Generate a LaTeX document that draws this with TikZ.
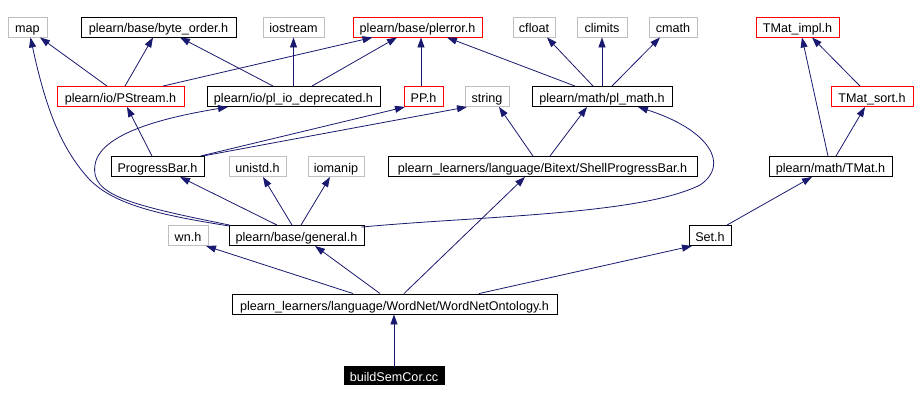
\documentclass[tikz,border=0pt]{standalone}
\usepackage{fontspec}
\setmainfont{Liberation Sans}
\usetikzlibrary{arrows.meta}
\definecolor{edgeblue}{HTML}{191970}
\definecolor{grayline}{HTML}{BFBFBF}
\definecolor{redline}{HTML}{FF0000}
\begin{document}
\begin{tikzpicture}[x=1pt,y=-1pt,
  box/.style={rectangle, draw, fill=white, inner sep=0pt, minimum height=20pt,
    text height=13pt, text depth=1pt,
    font=\fontsize{12.6}{14}\selectfont, line width=0.9pt},
  sysbox/.style={box, draw=grayline},
  redbox/.style={box, draw=redline},
  blkbox/.style={box, draw=black},
  mainbox/.style={box, draw=black, fill=black, text=white},
  dep/.style={draw=edgeblue, line width=0.8pt, -{Triangle[length=10pt,width=7pt]}}]
\useasboundingbox[fill=white] (0,0) rectangle (916,401);
% row 1
\node[sysbox, minimum width=39pt]  (map)     at (27.5,27)  {map};
\node[blkbox, minimum width=155pt] (byteord) at (158.5,27) {plearn/base/byte\_order.h};
\node[sysbox, minimum width=61pt]  (iostr)   at (293.5,27) {iostream};
\node[redbox, minimum width=129pt] (plerr)   at (417.5,27) {plearn/base/plerror.h};
\node[sysbox, minimum width=42pt]  (cfloat)  at (534,27)   {cfloat};
\node[sysbox, minimum width=50pt]  (climits) at (602,27)   {climits};
\node[sysbox, minimum width=48pt]  (cmath)   at (673,27)   {cmath};
\node[redbox, minimum width=83pt]  (tmimpl)  at (797.5,27) {TMat\_impl.h};
% row 2
\node[redbox, minimum width=127pt] (pstream) at (120.5,96.5) {plearn/io/PStream.h};
\node[blkbox, minimum width=173pt] (pliodep) at (293.5,96.5) {plearn/io/pl\_io\_deprecated.h};
\node[redbox, minimum width=39pt]  (pph)     at (423.5,96.5) {PP.h};
\node[sysbox, minimum width=44pt]  (string)  at (487,96.5)   {string};
\node[blkbox, minimum width=140pt] (plmath)  at (602,96.5)   {plearn/math/pl\_math.h};
\node[redbox, minimum width=82pt]  (tmsort)  at (872,96.5)   {TMat\_sort.h};
% row 3
\node[blkbox, minimum width=93pt]  (pbar)    at (157.5,166.5) {ProgressBar.h};
\node[sysbox, minimum width=57pt]  (unistd)  at (257.5,166.5) {unistd.h};
\node[sysbox, minimum width=56pt]  (iomanip) at (336,166.5)   {iomanip};
\node[blkbox, minimum width=309pt] (shellpb) at (542.5,166.5) {plearn\_learners/language/Bitext/ShellProgressBar.h};
\node[blkbox, minimum width=123pt] (tmat)    at (830.5,166.5) {plearn/math/TMat.h};
% row 4
\node[sysbox, minimum width=40pt]  (wn)      at (188,235.5)   {wn.h};
\node[blkbox, minimum width=135pt] (general) at (296.5,235.5) {plearn/base/general.h};
\node[blkbox, minimum width=42pt]  (seth)    at (710,235.5)   {Set.h};
% row 5
\node[blkbox, minimum width=325pt] (wno)     at (394.5,304)   {plearn\_learners/language/WordNet/WordNetOntology.h};
% row 6
\node[mainbox, minimum width=100pt, minimum height=18pt] (bsc) at (394,375) {buildSemCor.cc};

% edges
\draw[dep] (bsc.north) -- ([xshift=-0.5pt]wno.south);
\draw[dep] ([xshift=-41.5pt]wno.north) -- ([xshift=18pt]wn.south);
\draw[dep] ([xshift=-14.5pt]wno.north) -- ([xshift=18.5pt]general.south);
\draw[dep] ([xshift=9.5pt]wno.north) -- ([xshift=-17.5pt]shellpb.south);
\draw[dep] ([xshift=84.5pt]wno.north) -- ([xshift=-18pt]seth.south);

\draw[dep] ([xshift=-19.5pt]general.north) -- ([xshift=22.5pt]pbar.south);
\draw[dep] ([xshift=-4.5pt]general.north) -- ([xshift=5.5pt]unistd.south);
\draw[dep] ([xshift=4.5pt]general.north) -- ([xshift=-6pt]iomanip.south);
\draw[dep] ([xshift=1pt,yshift=-1pt]general.north west) .. controls (160,215) and (115,205) .. (90,180)
   .. controls (62,150) and (46,110) .. ([xshift=3pt]map.south);
\draw[dep] ([xshift=1pt]general.north west) .. controls (130,205) and (90,195) .. (95,165)
   .. controls (100,130) and (180,115) .. ([xshift=-65.5pt]pliodep.south);
\draw[dep] ([xshift=-3pt,yshift=-2pt]general.north east) .. controls (480,216) and (640,215) .. (700,185)
   .. controls (730,165) and (710,130) .. ([xshift=36pt]plmath.south);

\draw[dep] ([xshift=-9.5pt]shellpb.north) -- ([xshift=12pt]string.south);
\draw[dep] ([xshift=7.5pt]shellpb.north) -- ([xshift=-15pt]plmath.south);

\draw[dep] ([xshift=-5.5pt]pbar.north) -- ([xshift=6.5pt]pstream.south);
\draw[dep] ([xshift=-4pt]pbar.north east) -- ([xshift=-18.5pt]pph.south);
\draw[dep] ([xshift=-2pt]pbar.north east) -- ([xshift=-20pt]string.south);

\draw[dep] ([xshift=-13.5pt]pstream.north) -- ([xshift=12.5pt]map.south);
\draw[dep] ([xshift=4.5pt]pstream.north) -- ([xshift=-5.5pt]byteord.south);
\draw[dep] ([xshift=42.5pt]pstream.north) -- ([xshift=-45pt]plerr.south);

\draw[dep] ([xshift=-20.5pt]pliodep.north) -- ([xshift=21.5pt]byteord.south);
\draw[dep] (pliodep.north) -- (iostr.south);
\draw[dep] ([xshift=18.5pt]pliodep.north) -- ([xshift=-20.5pt]plerr.south);

\draw[dep] ([xshift=-2.5pt]pph.north) -- ([xshift=3.5pt]plerr.south);

\draw[dep] ([xshift=-27pt]plmath.north) -- ([xshift=29.5pt]plerr.south);
\draw[dep] ([xshift=-9pt]plmath.north) -- ([xshift=13pt]cfloat.south);
\draw[dep] (plmath.north) -- (climits.south);
\draw[dep] ([xshift=10pt]plmath.north) -- ([xshift=-13pt]cmath.south);

\draw[dep] ([xshift=-2.5pt]tmat.north) -- ([xshift=4.5pt]tmimpl.south);
\draw[dep] ([xshift=5.5pt]tmat.north) -- ([xshift=-7pt]tmsort.south);
\draw[dep] ([xshift=-12pt]tmsort.north) -- ([xshift=14.5pt]tmimpl.south);

\draw[dep] ([xshift=17pt]seth.north) -- ([xshift=-18.5pt]tmat.south);
\end{tikzpicture}
\end{document}
